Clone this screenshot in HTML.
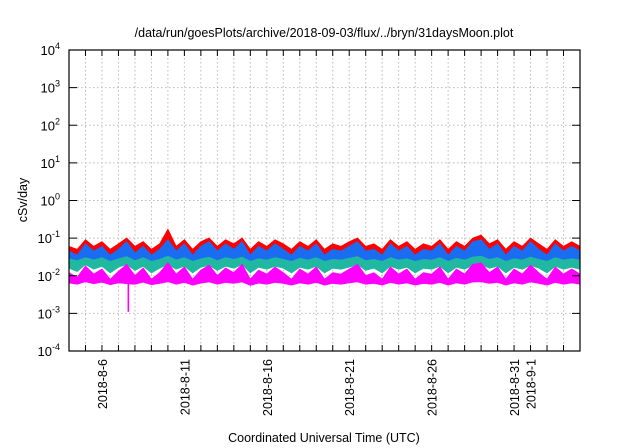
<!DOCTYPE html>
<html><head><meta charset="utf-8"><style>
body{margin:0;background:#fff}
svg{display:block;font-family:"Liberation Sans",sans-serif}
</style></head><body>
<svg id="c" width="640" height="448" viewBox="0 0 640 448">
<rect width="640" height="448" fill="#fff"/>
<text x="324" y="37" font-size="12.5" text-anchor="middle">/data/run/goesPlots/archive/2018-09-03/flux/../bryn/31daysMoon.plot</text>
<text x="0" y="0" font-size="12.5" text-anchor="middle" transform="translate(27,200) rotate(-90)">cSv/day</text>
<text x="324" y="442" font-size="12.5" text-anchor="middle">Coordinated Universal Time (UTC)</text>
<g id="grid"></g><g id="series"></g><g id="axes"></g>
</svg>
<script>
const xTickLabels=["2018-8-6","2018-8-11","2018-8-16","2018-8-21","2018-8-26","2018-8-31","2018-9-1"];
const xTickDays=[2,7,12,17,22,27,28];
const yExponents=[-4,-3,-2,-1,0,1,2,3,4];
const redHi=[0.06,0.05,0.09,0.06,0.08,0.05,0.07,0.1,0.06,0.08,0.05,0.07,0.17,0.06,0.09,0.05,0.08,0.1,0.06,0.09,0.07,0.1,0.05,0.08,0.06,0.09,0.07,0.05,0.08,0.06,0.09,0.05,0.07,0.06,0.08,0.1,0.06,0.07,0.05,0.09,0.06,0.08,0.05,0.07,0.06,0.09,0.05,0.08,0.06,0.1,0.12,0.07,0.09,0.05,0.08,0.06,0.1,0.07,0.05,0.09,0.06,0.08,0.06];
const blueHi=[0.045,0.035,0.07,0.045,0.06,0.035,0.05,0.08,0.04,0.06,0.035,0.05,0.09,0.045,0.07,0.035,0.06,0.08,0.045,0.07,0.05,0.08,0.035,0.06,0.045,0.07,0.05,0.035,0.06,0.045,0.07,0.035,0.05,0.045,0.06,0.08,0.045,0.05,0.035,0.07,0.045,0.06,0.035,0.05,0.045,0.07,0.035,0.06,0.045,0.08,0.09,0.05,0.07,0.035,0.06,0.045,0.08,0.05,0.035,0.07,0.045,0.06,0.045];
const blueLo=[0.028,0.025,0.03,0.026,0.03,0.024,0.028,0.032,0.025,0.03,0.024,0.027,0.033,0.026,0.03,0.024,0.028,0.031,0.025,0.03,0.027,0.031,0.024,0.028,0.026,0.03,0.027,0.024,0.029,0.026,0.03,0.024,0.027,0.026,0.029,0.032,0.025,0.027,0.024,0.03,0.026,0.028,0.024,0.027,0.026,0.03,0.024,0.029,0.026,0.031,0.033,0.027,0.03,0.024,0.028,0.026,0.031,0.027,0.024,0.03,0.026,0.028,0.026];
const tealLo=[0.016,0.013,0.02,0.015,0.018,0.012,0.017,0.02,0.014,0.018,0.012,0.016,0.02,0.015,0.018,0.012,0.017,0.019,0.014,0.018,0.016,0.02,0.012,0.017,0.015,0.018,0.016,0.012,0.017,0.015,0.018,0.012,0.016,0.015,0.017,0.02,0.014,0.016,0.012,0.018,0.015,0.017,0.012,0.016,0.015,0.018,0.012,0.017,0.015,0.019,0.02,0.016,0.018,0.012,0.017,0.015,0.019,0.016,0.012,0.018,0.015,0.017,0.015];
const magHi=[0.012,0.009,0.018,0.011,0.015,0.008,0.013,0.02,0.01,0.016,0.008,0.012,0.022,0.011,0.017,0.008,0.014,0.019,0.01,0.016,0.012,0.02,0.008,0.014,0.011,0.017,0.012,0.008,0.015,0.011,0.017,0.008,0.012,0.011,0.015,0.02,0.01,0.012,0.008,0.017,0.011,0.015,0.008,0.012,0.011,0.017,0.008,0.015,0.011,0.02,0.022,0.012,0.017,0.008,0.015,0.011,0.019,0.012,0.008,0.017,0.011,0.015,0.011];
const magLo=[0.0065,0.006,0.007,0.0062,0.0068,0.0058,0.0065,0.0062,0.006,0.0068,0.0058,0.0063,0.007,0.006,0.0067,0.0057,0.0064,0.0069,0.006,0.0067,0.0063,0.0069,0.0056,0.0064,0.006,0.0067,0.0063,0.0057,0.0065,0.006,0.0067,0.0057,0.0063,0.006,0.0065,0.0069,0.006,0.0063,0.0057,0.0067,0.006,0.0065,0.0057,0.0063,0.006,0.0067,0.0057,0.0065,0.006,0.0069,0.007,0.0063,0.0067,0.0057,0.0065,0.006,0.0069,0.0063,0.0057,0.0067,0.006,0.0065,0.006];
const dipDays=[3.6];
const dipValues=[0.0011];
const L=69,R=580,T=50,B=351,DAYS=31;
const x=d=>L+(R-L)*d/DAYS;
const y=v=>T+(4-Math.log10(v))*(B-T)/8;
const NS="http://www.w3.org/2000/svg";
function mk(tag,attrs,parent){const e=document.createElementNS(NS,tag);for(const k in attrs)e.setAttribute(k,attrs[k]);parent.appendChild(e);return e;}
const grid=document.getElementById('grid'),ser=document.getElementById('series'),ax=document.getElementById('axes');
for(let d=1;d<DAYS;d++){
 const g=mk('line',{x1:x(d),x2:x(d),y1:T,y2:B,stroke:'#bbb','stroke-dasharray':'1.5,2.5','stroke-width':1},grid);
 
 
 mk('line',{x1:x(d),x2:x(d),y1:B,y2:B-6,stroke:'#000'},ax);
 mk('line',{x1:x(d),x2:x(d),y1:T,y2:T+6,stroke:'#000'},ax);
}
yExponents.forEach(e=>{
 const yy=y(Math.pow(10,e));
 if(e>-4&&e<4){const g=mk('line',{x1:L,x2:R,y1:yy,y2:yy,stroke:'#bbb','stroke-dasharray':'1.5,2.5'},grid);
 
 }
 mk('line',{x1:L,x2:L+8,y1:yy,y2:yy,stroke:'#000'},ax);
 mk('line',{x1:R,x2:R-8,y1:yy,y2:yy,stroke:'#000'},ax);
 const t=mk('text',{x:L-9,y:yy+5,'font-size':13,'text-anchor':'end'},ax);
 
 
 t.innerHTML='10<tspan dy="-6" font-size="9">'+e+'</tspan>';
});
xTickLabels.forEach((s,i)=>{
 const t=mk('text',{'font-size':12.5,'text-anchor':'end',transform:`translate(${x(xTickDays[i])+5},359) rotate(-90)`},ax);
 
 
 t.textContent=s;
});
function band(hi,lo,color,name){
 const n=hi.length;let p=[];
 for(let i=0;i<n;i++)p.push(x(i*DAYS/(n-1))+','+y(hi[i]));
 for(let i=n-1;i>=0;i--)p.push(x(i*DAYS/(n-1))+','+y(lo[i]));
 const e=mk('polygon',{points:p.join(' '),fill:color,stroke:color,'stroke-width':1},ser);
 
 
}
band(redHi,blueLo,'#ff0000','series-red');
band(blueHi,blueLo,'#1a6cf0','series-blue');
band(blueLo,tealLo,'#20b8a0','series-teal');
band(magHi,magLo,'#ff00ff','series-magenta');
dipDays.forEach((d,i)=>{
 const e=mk('line',{x1:x(d),x2:x(d),y1:y(0.007),y2:y(dipValues[i]),stroke:'#ff00ff','stroke-width':1.6},ser);
 
 
});
const fr=mk('rect',{x:L,y:T,width:R-L,height:B-T,fill:'none',stroke:'#000','stroke-width':1.2},ax);


</script>
</body></html>
